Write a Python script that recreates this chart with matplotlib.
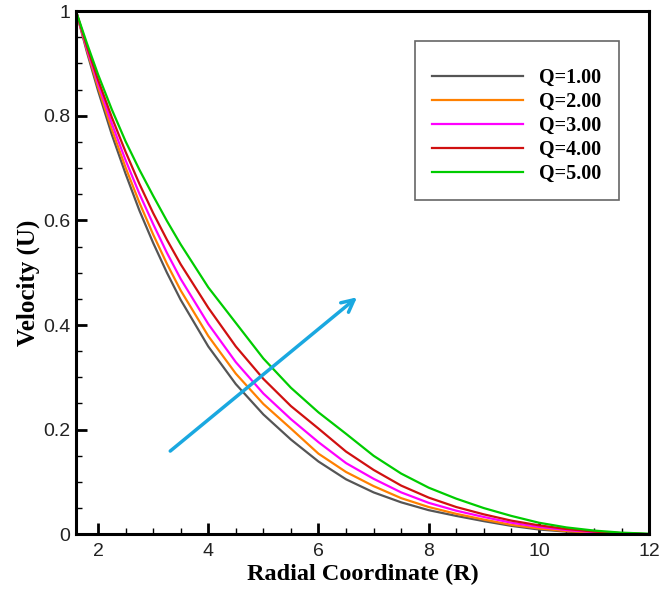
import matplotlib
matplotlib.use('Agg')
import matplotlib.pyplot as plt
from matplotlib.patches import Rectangle
from matplotlib.ticker import MultipleLocator, FormatStrFormatter

# radial coordinate samples
r = [1.6, 1.8, 2.0, 2.25, 2.5, 2.75, 3.0, 3.25, 3.5, 4.0, 4.5, 5.0, 5.5, 6.0, 6.5, 7.0,
     7.5, 8.0, 8.5, 9.0, 9.5, 10.0, 10.5, 11.0, 11.5, 12.0]

u_q1 = [1.0, 0.921, 0.848, 0.764, 0.689, 0.619, 0.557, 0.500, 0.448, 0.359, 0.287, 0.229,
        0.181, 0.139, 0.105, 0.080, 0.061, 0.046, 0.035, 0.025, 0.016, 0.009, 0.005, 0.002,
        0.001, 0.0]
u_q2 = [1.0, 0.925, 0.855, 0.774, 0.701, 0.634, 0.573, 0.517, 0.466, 0.379, 0.307, 0.249,
        0.202, 0.154, 0.119, 0.092, 0.069, 0.052, 0.039, 0.028, 0.018, 0.011, 0.006, 0.003,
        0.001, 0.0]
u_q3 = [1.0, 0.928, 0.862, 0.785, 0.715, 0.651, 0.593, 0.538, 0.488, 0.402, 0.329, 0.269,
        0.220, 0.176, 0.136, 0.106, 0.080, 0.060, 0.045, 0.033, 0.022, 0.014, 0.008, 0.004,
        0.002, 0.0]
u_q4 = [1.0, 0.932, 0.869, 0.797, 0.731, 0.670, 0.614, 0.563, 0.516, 0.433, 0.359, 0.297,
        0.245, 0.202, 0.158, 0.123, 0.093, 0.070, 0.052, 0.038, 0.026, 0.017, 0.010, 0.005,
        0.002, 0.0]
u_q5 = [1.0, 0.938, 0.879, 0.812, 0.751, 0.697, 0.647, 0.599, 0.554, 0.472, 0.404, 0.336,
        0.280, 0.233, 0.192, 0.150, 0.116, 0.089, 0.068, 0.050, 0.035, 0.022, 0.013, 0.007,
        0.003, 0.001]

labels = ['Q=1.00', 'Q=2.00', 'Q=3.00', 'Q=4.00', 'Q=5.00']
colors = ['#555555', '#ff8000', '#ff00ff', '#d01010', '#00cc00']

# direction arrow (increasing Q)
arrow_start = (3.31, 0.159)
arrow_end = (6.70, 0.453)

fig = plt.figure(figsize=(6.61, 5.89), dpi=100)
ax = fig.add_axes([0.115, 0.093, 0.867, 0.888])

for u, lab, c in zip([u_q1, u_q2, u_q3, u_q4, u_q5], labels, colors):
    ax.plot(r, u, color=c, lw=1.6, label=lab)

ax.annotate('', xy=arrow_end, xytext=arrow_start,
            arrowprops=dict(arrowstyle='->', color='#1aa8e0', lw=2.5,
                            mutation_scale=22, shrinkA=0, shrinkB=0))

ax.set_xlim(1.6, 12)
ax.set_ylim(0, 1)
ax.xaxis.set_major_locator(MultipleLocator(2))
ax.xaxis.set_minor_locator(MultipleLocator(0.5))
ax.yaxis.set_major_locator(MultipleLocator(0.2))
ax.yaxis.set_minor_locator(MultipleLocator(0.05))
ax.yaxis.set_major_formatter(FormatStrFormatter('%g'))

for s in ax.spines.values():
    s.set_linewidth(2.2)

ax.tick_params(which='major', direction='in', length=8, width=2,
               labelsize=14, labelcolor='#222222')
ax.tick_params(axis='x', which='major', pad=6)
ax.tick_params(axis='y', which='major', pad=4)
ax.tick_params(which='minor', direction='in', length=4.5, width=1)
for t in ax.get_xticklabels() + ax.get_yticklabels():
    t.set_family('Liberation Sans')

ax.set_xlabel('Radial Coordinate (R)', family='Liberation Serif',
              fontweight='bold', fontsize=17.5, labelpad=3)
ax.set_ylabel('Velocity (U)', family='Liberation Serif',
              fontweight='bold', fontsize=18)
ax.yaxis.set_label_coords(-0.062, 0.48)

# legend frame (Tecplot style box with extra top space)
ax.add_patch(Rectangle((0.5916, 0.6386), 0.356, 0.304, transform=ax.transAxes,
                       facecolor='white', edgecolor='#666666', lw=1.2, zorder=4))
leg = ax.legend(loc='upper left', bbox_to_anchor=(0.621, 0.892),
                prop={'family': 'Liberation Serif', 'weight': 'bold', 'size': 14.5},
                handlelength=4.5, handletextpad=0.8, labelspacing=0.2,
                borderpad=0, borderaxespad=0, frameon=False)
leg.set_zorder(5)

fig.savefig('out.png', dpi=100)
